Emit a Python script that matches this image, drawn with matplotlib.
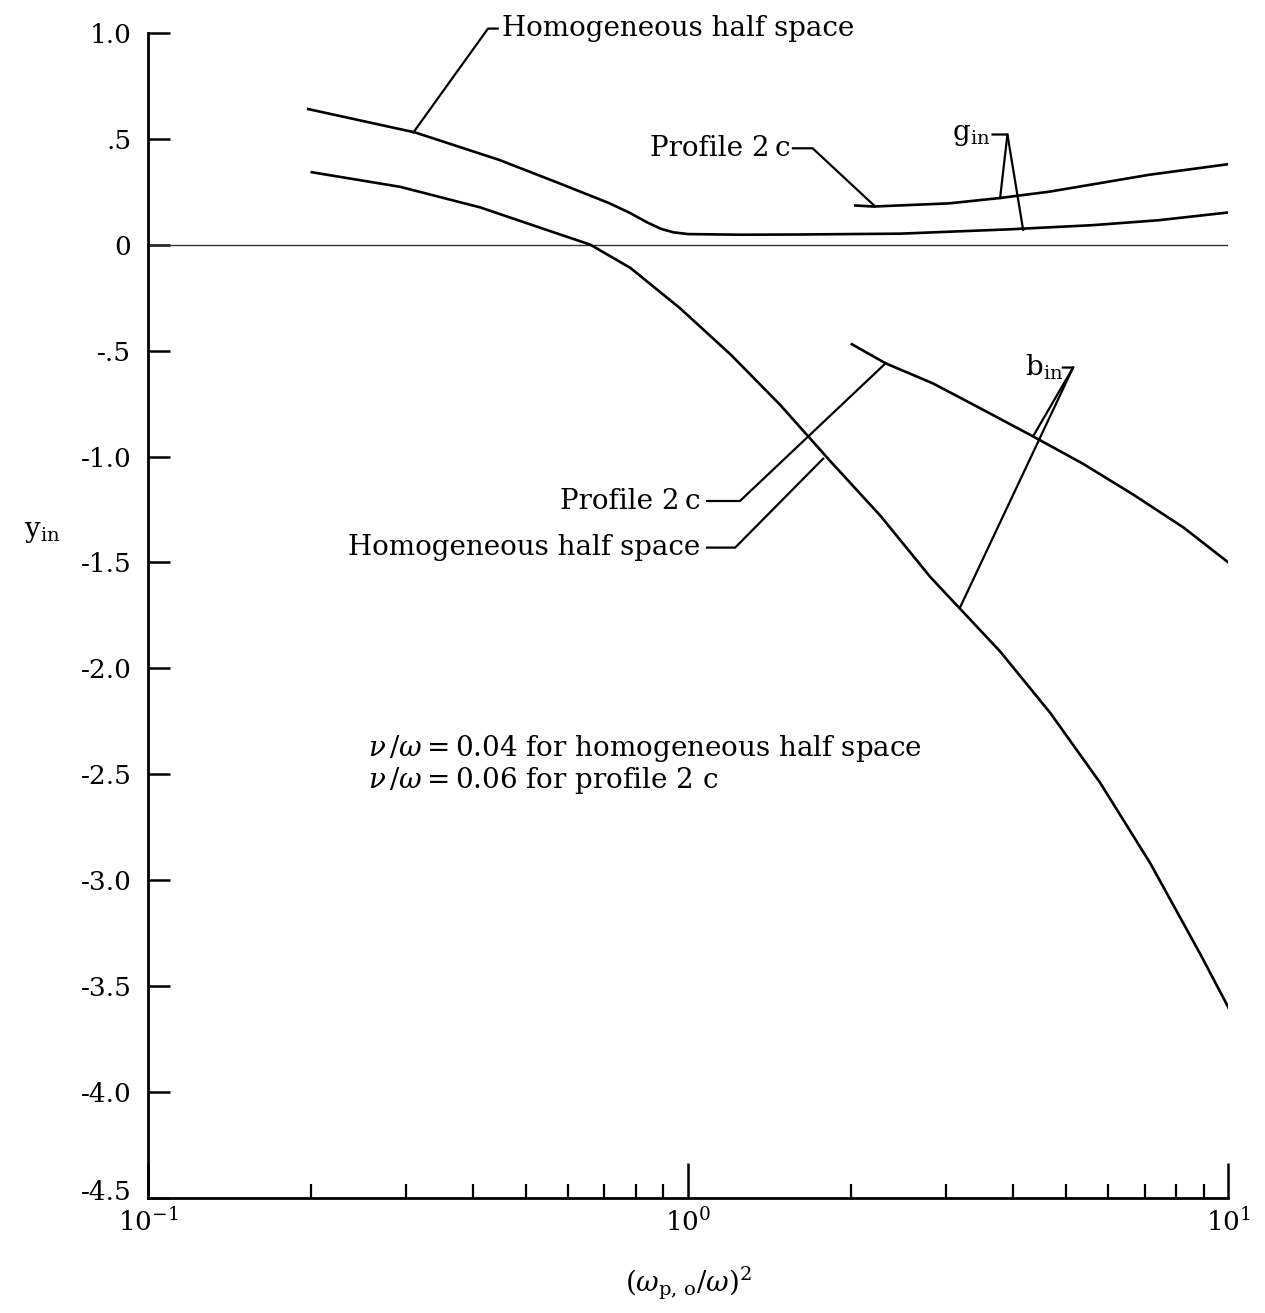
"""Input admittance y_in vs (omega_p,o/omega)^2: homogeneous half space vs profile 2c."""

import matplotlib.pyplot as plt
import matplotlib.transforms as mtransforms
from matplotlib.ticker import FixedLocator, FixedFormatter, NullFormatter

plt.rcParams["font.family"] = ["DejaVu Serif"]
plt.rcParams["mathtext.fontset"] = "dejavuserif"

# ---------------------------------------------------------------------------
# Data
# ---------------------------------------------------------------------------
# g_in, homogeneous half space
hhs_g_x = [0.198, 0.312, 0.447, 0.577, 0.714, 0.78, 0.84, 0.89, 0.94, 1.0,
           1.25, 1.6, 2.47, 3.9, 5.6, 7.4, 10.0]
hhs_g_y = [0.64, 0.53, 0.40, 0.29, 0.196, 0.15, 0.105, 0.075, 0.058, 0.05,
           0.047, 0.048, 0.052, 0.072, 0.092, 0.115, 0.152]

# g_in, profile 2c
p2c_g_x = [2.04, 2.2, 3.04, 3.77, 4.66, 5.77, 7.14, 10.0]
p2c_g_y = [0.185, 0.18, 0.195, 0.22, 0.25, 0.29, 0.33, 0.38]

# b_in, homogeneous half space
hhs_b_x = [0.201, 0.293, 0.412, 0.532, 0.659, 0.782, 0.966, 1.20, 1.48, 1.83,
           2.27, 2.81, 3.78, 4.68, 5.79, 7.17, 8.88, 10.0]
hhs_b_y = [0.342, 0.273, 0.176, 0.08, 0.0, -0.11, -0.30, -0.52, -0.756, -1.02,
           -1.28, -1.57, -1.92, -2.21, -2.54, -2.92, -3.35, -3.60]

# b_in, profile 2c
p2c_b_x = [2.01, 2.32, 2.84, 3.43, 4.35, 5.39, 6.67, 8.26, 10.0]
p2c_b_y = [-0.47, -0.56, -0.655, -0.765, -0.905, -1.035, -1.18, -1.335, -1.50]

y_ticks = [1.0, 0.5, 0.0, -0.5, -1.0, -1.5, -2.0, -2.5, -3.0, -3.5, -4.0, -4.5]
y_tick_labels = ["1.0", ".5", "0", "-.5", "-1.0", "-1.5", "-2.0", "-2.5",
                 "-3.0", "-3.5", "-4.0", "-4.5"]
x_major = [0.1, 1.0, 10.0]
x_major_labels = [r"$10^{-1}$", r"$10^{0}$", r"$10^{1}$"]
x_minor = [m * d for d in (0.1, 1.0) for m in range(2, 10)]

LW = 1.9
FS = 20       # callout / note text
FS_TICK = 19

fig = plt.figure(figsize=(12.65, 13.13), dpi=100)
ax = fig.add_axes([0.117, 0.0876, 0.854, 0.8874])

ax.set_xscale("log")
ax.set_xlim(0.1, 10.0)
ax.set_ylim(-4.5, 1.0)

ax.axhline(0.0, color="#333333", linewidth=1.0)
for xs, ys in ((hhs_g_x, hhs_g_y), (p2c_g_x, p2c_g_y),
               (hhs_b_x, hhs_b_y), (p2c_b_x, p2c_b_y)):
    ax.plot(xs, ys, color="black", linewidth=LW, solid_joinstyle="round")

# spines / ticks
ax.spines["top"].set_visible(False)
ax.spines["right"].set_visible(False)
ax.spines["left"].set_linewidth(2.0)
ax.spines["bottom"].set_linewidth(2.0)

ax.yaxis.set_major_locator(FixedLocator(y_ticks))
ax.yaxis.set_major_formatter(FixedFormatter(y_tick_labels))
ax.xaxis.set_major_locator(FixedLocator(x_major))
ax.xaxis.set_major_formatter(FixedFormatter(x_major_labels))
ax.xaxis.set_minor_locator(FixedLocator(x_minor))
ax.xaxis.set_minor_formatter(NullFormatter())

ax.tick_params(axis="y", direction="in", length=16, width=1.8, pad=12,
               labelsize=FS_TICK)
ax.tick_params(axis="x", which="major", direction="in", length=25, width=1.8,
               pad=7, labelsize=FS_TICK)
ax.tick_params(axis="x", which="minor", direction="in", length=10, width=1.6)

# lift the bottom y label a little so it clears the 10^-1 label, as in the original
fig.canvas.draw()
bottom_lbl = ax.yaxis.get_majorticklabels()[-1]
bottom_lbl.set_transform(bottom_lbl.get_transform()
                         + mtransforms.ScaledTranslation(0, 6 / 72, fig.dpi_scale_trans))

ax.set_xlabel(r"$(\omega_{\mathrm{p},\,\mathrm{o}}/\omega)^2$", fontsize=FS)
ax.xaxis.set_label_coords(0.5, -0.057)
ax.set_ylabel(r"$\mathrm{y}_{\mathrm{in}}$", fontsize=FS, rotation=0)
ax.yaxis.set_label_coords(-0.098, 0.56)

# ---------------------------------------------------------------------------
# Callouts
# ---------------------------------------------------------------------------
lead = dict(color="black", linewidth=1.6, clip_on=False)

ax.text(0.452, 1.02, "Homogeneous half space", fontsize=FS, ha="left",
        va="center", clip_on=False)
ax.plot([0.444, 0.426, 0.310], [1.02, 1.02, 0.53], **lead)

ax.text(1.545, 0.455, "Profile 2\u2009c", fontsize=FS, ha="right", va="center")
ax.plot([1.563, 1.70, 2.22], [0.455, 0.455, 0.18], **lead)

ax.text(3.62, 0.52, r"$\mathrm{g}_{\mathrm{in}}$", fontsize=FS, ha="right",
        va="center")
ax.plot([3.66, 3.90, 3.78], [0.52, 0.52, 0.22], **lead)
ax.plot([3.90, 4.17], [0.52, 0.07], **lead)

ax.text(4.94, -0.58, r"$\mathrm{b}_{\mathrm{in}}$", fontsize=FS, ha="right",
        va="center")
ax.plot([4.94, 5.16, 4.35], [-0.58, -0.58, -0.905], **lead)
ax.plot([5.16, 3.19], [-0.58, -1.71], **lead)

ax.text(1.052, -1.21, "Profile 2\u2009c", fontsize=FS, ha="right", va="center")
ax.plot([1.084, 1.247, 2.32], [-1.21, -1.21, -0.56], **lead)

ax.text(1.052, -1.43, "Homogeneous half space", fontsize=FS, ha="right",
        va="center")
ax.plot([1.084, 1.222, 1.778], [-1.43, -1.43, -1.01], **lead)

ax.text(0.255, -2.38, r"$\nu\,/\omega = 0.04$ for homogeneous half space",
        fontsize=FS, ha="left", va="center")
ax.text(0.255, -2.53, r"$\nu\,/\omega = 0.06$ for profile 2 c",
        fontsize=FS, ha="left", va="center")

fig.savefig("out.png", dpi=100)
